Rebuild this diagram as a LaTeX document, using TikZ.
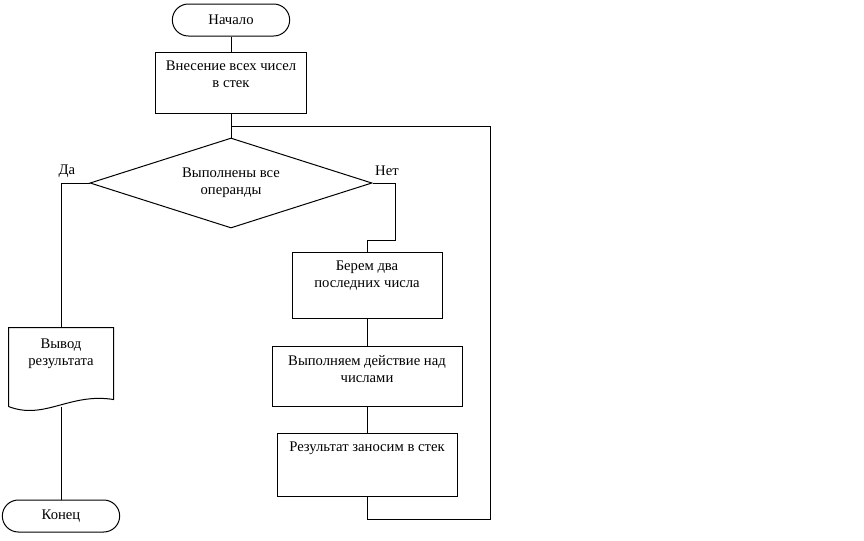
\documentclass[tikz,border=0pt]{standalone}
\usepackage{fontspec}
\setmainfont{Liberation Serif}
\usetikzlibrary{shapes.geometric}

\begin{document}
\begin{tikzpicture}[
        x=0.75pt, y=-0.75pt,
        line width=0.75pt,
        every node/.style={font=\fontsize{11}{13}\selectfont},
        terminal/.style={rectangle, draw, rounded corners=12pt, minimum width=88pt, minimum height=24pt, inner sep=0pt},
        process/.style={rectangle, draw, inner sep=0pt},
        ptext/.style={anchor=north, yshift=-6.75pt, inner sep=0pt, align=center},
        decision/.style={diamond, draw, shape aspect=3.13, minimum width=211.5pt, minimum height=67.5pt, inner sep=0pt, align=center},
        lbl/.style={inner sep=0pt}
    ]
        \useasboundingbox (0,0) rectangle (864,540);

        % Start and first step
        \node[terminal] (start) at (231,20) {Начало};
        \node[process, minimum width=113.25pt, minimum height=45.75pt,
              label={[ptext]north:{Внесение всех чисел\\в стек}}] (stack) at (231,82.5) {};

        % Condition
        \node[decision] (check) at (231,183) {Выполнены все\\операнды};
        \node[lbl] (yes) at (67,171) {Да};
        \node[lbl] (no) at (387,171) {Нет};

        % Output branch
        \node[minimum width=78pt, minimum height=58.5pt, inner sep=0pt,
              label={[ptext, yshift=-1.5pt]north:{Вывод\\результата}}] (result) at (61,367) {};
        \node[terminal] (finish) at (61,516) {Конец};

        % Loop body
        \node[process, minimum width=112.5pt, minimum height=49.5pt,
              label={[ptext]north:{Берем два\\последних числа}}] (take) at (367,285) {};
        \node[process, minimum width=142.5pt, minimum height=45pt,
              label={[ptext]north:{Выполняем действие над\\числами}}] (apply) at (367,376) {};
        \node[process, minimum width=135pt, minimum height=47.25pt,
              label={[ptext]north:{Результат заносим в стек}}] (push) at (367,464.5) {};

        \coordinate (join) at (231,126);
        \coordinate (loopr) at (490,126);

        % Document outline
        \draw (result.south west) -- (result.north west) -- (result.north east)
            -- ([shift={(0,-7)}]result.south east)
            .. controls ([shift={(61,-14)}]result.south west) and ([shift={(36,14)}]result.south west)
            .. (result.south west);

        % Lines
        \draw (start) -- (stack);
        \draw (stack) -- (check);
        \draw (check.west) -| (result.north);
        \draw (result.south) -- (finish);
        \draw (check.east) -| ++(23,57) -| (take.north);
        \draw (take) -- (apply);
        \draw (apply) -- (push);
        \draw (push.south) -- ++(0,23) -| (loopr) -- (join);

    \end{tikzpicture}
\end{document}
